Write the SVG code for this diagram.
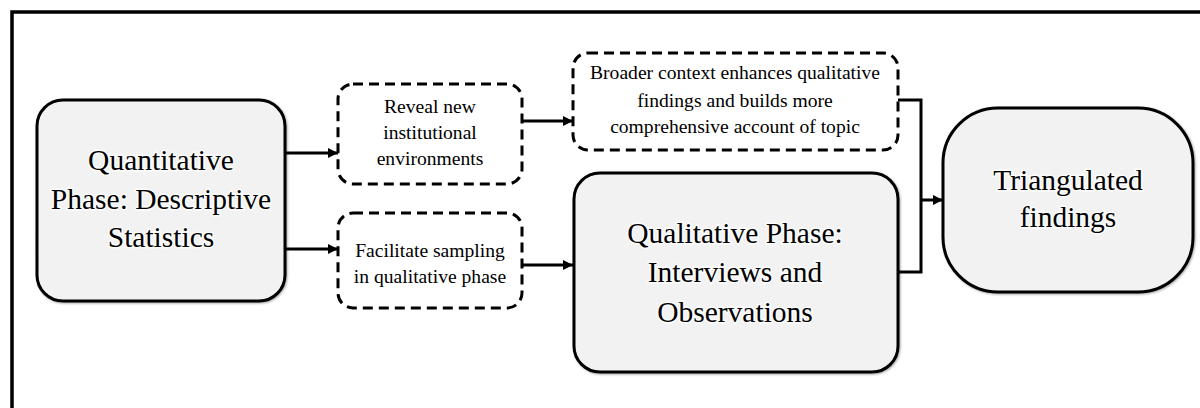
<svg xmlns="http://www.w3.org/2000/svg" width="1200" height="408" viewBox="0 0 1200 408">
<style>
  .solid { fill: #f2f2f2; stroke: #000; stroke-width: 3; }
  .dash { fill: #fff; stroke: #000; stroke-width: 3; stroke-dasharray: 10 6; }
  .t { font-family: "Liberation Serif", "Times New Roman", serif; fill: #000; text-anchor: middle; }
  .big { font-size: 29.5px; stroke: #fff; stroke-width: 3; stroke-opacity: 0.8; paint-order: stroke; }
  .small { font-size: 19.6px; }
  .conn { fill: none; stroke: #000; stroke-width: 3; }
</style>
<defs>
  <marker id="arr" viewBox="0 0 10 10" refX="10" refY="5" markerWidth="10" markerHeight="10" markerUnits="userSpaceOnUse" orient="auto">
    <path d="M0,0 L10,5 L0,10 Z" fill="#000"/>
  </marker>
  <filter id="sh" x="-10%" y="-10%" width="120%" height="120%">
    <feDropShadow dx="1" dy="1" stdDeviation="1" flood-color="#000" flood-opacity="0.35"/>
  </filter>
</defs>
<rect width="1200" height="408" fill="#fff"/>
<path d="M12,410 V12 H1202" fill="none" stroke="#000" stroke-width="3.5"/>

<g id="connectors">
  <line class="conn" x1="285" y1="153" x2="338" y2="153" marker-end="url(#arr)"/>
  <line class="conn" x1="285" y1="249" x2="338" y2="249" marker-end="url(#arr)"/>
  <line class="conn" x1="522" y1="121" x2="573" y2="121" marker-end="url(#arr)"/>
  <line class="conn" x1="522" y1="265" x2="573" y2="265" marker-end="url(#arr)"/>
  <polyline class="conn" points="898,100 921,100 921,272 898,272"/>
  <line class="conn" x1="921" y1="200" x2="943" y2="200" marker-end="url(#arr)"/>
</g>

<g id="quant">
  <rect class="solid" x="37" y="100" width="248" height="201" rx="26" filter="url(#sh)"/>
  <text class="t big" x="161" y="170">Quantitative</text>
  <text class="t big" x="161" y="209">Phase: Descriptive</text>
  <text class="t big" x="161" y="247">Statistics</text>
</g>

<g id="reveal">
  <rect class="dash" x="338" y="84" width="184" height="100" rx="15"/>
  <text class="t small" x="430" y="113">Reveal new</text>
  <text class="t small" x="430" y="139">institutional</text>
  <text class="t small" x="430" y="165">environments</text>
</g>

<g id="facilitate">
  <rect class="dash" x="338" y="213" width="184" height="95" rx="15"/>
  <text class="t small" x="430" y="257">Facilitate sampling</text>
  <text class="t small" x="430" y="283">in qualitative phase</text>
</g>

<g id="broader">
  <rect class="dash" x="573" y="53" width="325" height="97" rx="15"/>
  <text class="t small" x="735" y="79">Broader context enhances qualitative</text>
  <text class="t small" x="735" y="107">findings and builds more</text>
  <text class="t small" x="735" y="133">comprehensive account of topic</text>
</g>

<g id="qual">
  <rect class="solid" x="574" y="173" width="324" height="199" rx="26" filter="url(#sh)"/>
  <text class="t big" x="735" y="243">Qualitative Phase:</text>
  <text class="t big" x="735" y="282">Interviews and</text>
  <text class="t big" x="735" y="322">Observations</text>
</g>

<g id="tri">
  <rect class="solid" x="943" y="108" width="250" height="184" rx="55" filter="url(#sh)"/>
  <text class="t big" x="1068" y="190">Triangulated</text>
  <text class="t big" x="1068" y="227">findings</text>
</g>
</svg>
